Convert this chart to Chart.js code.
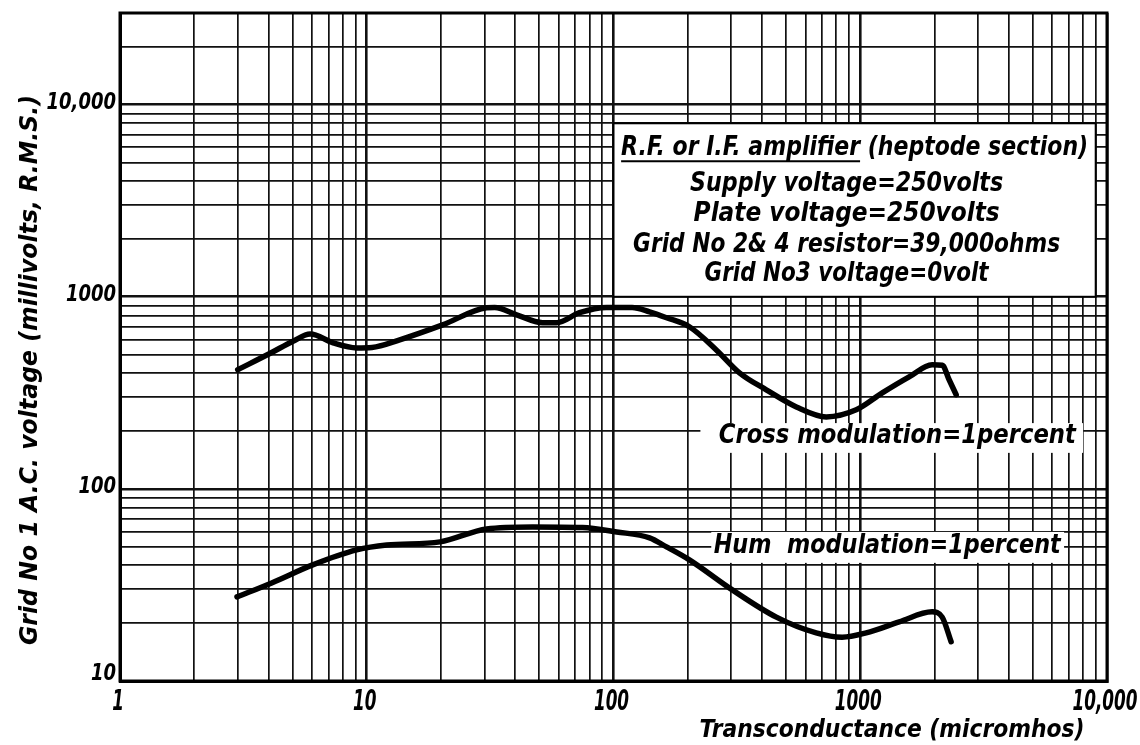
<!DOCTYPE html>
<html><head><meta charset="utf-8">
<script src="https://cdn.jsdelivr.net/npm/chart.js@4.4.0/dist/chart.umd.min.js"></script>
<style>html,body{margin:0;padding:0;background:#fff;}#wrap{width:1140px;height:745px;}</style>
</head><body><div id="wrap"><canvas id="c" width="1140" height="745"></canvas></div>
<script>
// ---- data ----
const crossX = [3.0, 4.1, 5.0, 5.9, 7.3, 9.1, 10.5, 13.6, 20.3, 30.6, 33, 40.5, 51.6, 58.8, 72.8, 93.7, 119, 140, 164, 203, 261, 324, 416, 551, 728, 963, 1228, 1578, 1956, 2150, 2292, 2448];
const crossY = [417, 511, 585, 640, 576, 542, 545, 597, 714, 877, 880, 806, 733, 733, 826, 880, 880, 835, 778, 698, 529, 402, 328, 267, 237, 258, 316, 383, 443, 440, 370, 309];
const humX = [2.98, 4.12, 6.04, 9.1, 12.05, 19.8, 30.6, 47, 74.8, 103, 140, 164, 203, 303, 457, 663, 845, 1057, 1438, 1956, 2148, 2335];
const humY = [27.4, 32.4, 40.2, 48.1, 51, 53, 61.9, 63.4, 63, 59.7, 55.6, 49.9, 42.7, 29.8, 21.5, 17.8, 16.9, 17.8, 20.3, 22.9, 21.5, 16.0];

const xTickValues = [1,2,3,4,5,6,7,8,9,10,20,30,40,50,60,70,80,90,100,200,300,400,500,600,700,800,900,1000,2000,3000,4000,5000,6000,7000,8000,9000,10000];
const yTickValues = [10,20,30,40,50,60,70,80,90,100,200,300,400,500,600,700,800,900,1000,2000,3000,4000,5000,6000,7000,8000,9000,10000,20000,30000];
const xLabelValues = [1, 10, 100, 1000, 10000];
const xLabelTexts = ['1', '10', '100', '1000', '10,000'];
const yLabelValues = [10, 100, 1000, 10000];
const yLabelTexts = ['10', '100', '1000', '10,000'];

const seriesNames = ['Cross modulation=1percent', 'Hum  modulation=1percent'];
const noteTitleA = 'R.F. or I.F. amplifier';
const noteTitleB = ' (heptode section)';
const noteLines = ['Supply voltage=250volts', 'Plate voltage=250volts', 'Grid No 2& 4 resistor=39,000ohms', 'Grid No3 voltage=0volt'];
const xTitle = 'Transconductance (micromhos)';
const yTitle = 'Grid No 1 A.C. voltage (millivolts, R.M.S.)';

// ---- helpers ----
const FAM = '"DejaVu Sans Condensed", "DejaVu Sans", sans-serif';
const isDecade = v => Math.abs(Math.log10(v) - Math.round(Math.log10(v))) < 1e-9;
function toPts(xs, ys){ return xs.map((x,i)=>({x, y: ys[i]})); }
function drawText(ctx, text, px, py, size, k, align){
  ctx.save();
  ctx.font = 'italic bold ' + size + 'px ' + FAM;
  ctx.translate(px, py);
  ctx.scale(k, 1);
  ctx.textAlign = align || 'center';
  ctx.textBaseline = 'middle';
  ctx.fillStyle = '#000';
  ctx.fillText(text, 0, 0);
  ctx.restore();
}
function fitText(ctx, text, cx, cy, width, size, align){
  ctx.save();
  ctx.font = 'italic bold ' + size + 'px ' + FAM;
  const w = ctx.measureText(text).width;
  ctx.restore();
  drawText(ctx, text, cx, cy, size, width / w, align);
  return width / w;
}

const decor = {
  id: 'decor',
  beforeDatasetsDraw(chart){
    const {ctx, scales:{x, y}} = chart;
    ctx.save();
    ctx.fillStyle = '#fff';
    const bx0 = x.getPixelForValue(100), bx1 = x.getPixelForValue(9000);
    const by0 = y.getPixelForValue(8000), by1 = y.getPixelForValue(1000);
    ctx.fillRect(bx0, by0, bx1 - bx0, by1 - by0);
    ctx.strokeStyle = '#000'; ctx.lineWidth = 2;
    ctx.strokeRect(bx0, by0, bx1 - bx0, by1 - by0);
    let a = x.getPixelForValue(225), b = x.getPixelForValue(8000);
    let t = y.getPixelForValue(220), u = y.getPixelForValue(154);
    ctx.fillRect(a, t, b - a, u - t);
    a = x.getPixelForValue(249); b = x.getPixelForValue(6700);
    t = y.getPixelForValue(59.7); u = y.getPixelForValue(41.2);
    ctx.fillRect(a, t, b - a, u - t);
    ctx.restore();
  },
  afterDatasetsDraw(chart){
    const {ctx, scales:{x, y}} = chart;
    const bx0 = x.getPixelForValue(100), bx1 = x.getPixelForValue(9000);
    const by0 = y.getPixelForValue(8000);
    const bc = (bx0 + bx1) / 2;
    ctx.save();
    ctx.font = 'italic bold 26px ' + FAM;
    const wa = ctx.measureText(noteTitleA).width, wb = ctx.measureText(noteTitleB).width;
    ctx.restore();
    const titleW = 467, k = titleW / (wa + wb);
    const tx0 = bc - titleW / 2, ty = by0 + 25;
    drawText(ctx, noteTitleA + noteTitleB, tx0, ty, 26, k, 'left');
    ctx.save();
    ctx.strokeStyle = '#000'; ctx.lineWidth = 2;
    ctx.beginPath(); ctx.moveTo(tx0, ty + 13); ctx.lineTo(tx0 + wa * k, ty + 13); ctx.stroke();
    ctx.restore();
    const widths = [313, 306, 427, 284];
    const offs = [61, 91, 122, 151];
    noteLines.forEach((s, i) => fitText(ctx, s, bc - 8, by0 + offs[i], widths[i], 26));
    fitText(ctx, seriesNames[0], x.getPixelForValue(1413), y.getPixelForValue(187), 357, 26);
    fitText(ctx, seriesNames[1], x.getPixelForValue(1286), y.getPixelForValue(50), 347, 26);
  },
  afterDraw(chart){
    const {ctx, chartArea:ca, scales:{x, y}} = chart;
    ctx.save();
    ctx.strokeStyle = '#000'; ctx.lineWidth = 3;
    ctx.strokeRect(ca.left, ca.top, ca.right - ca.left, ca.bottom - ca.top);
    ctx.restore();
    // tick labels
    xLabelValues.forEach((v, i) => {
      drawText(ctx, xLabelTexts[i], x.getPixelForValue(v) - 2, ca.bottom + 22, 28, 0.67, 'center');
    });
    yLabelValues.forEach((v, i) => {
      const py = Math.min(y.getPixelForValue(v) - 2, ca.bottom - 7);
      drawText(ctx, yLabelTexts[i], ca.left - 4, py, 23, 0.87, 'right');
    });
    // axis titles
    fitText(ctx, xTitle, 892, 730, 385, 25);
    ctx.save();
    ctx.translate(31, 370);
    ctx.rotate(-Math.PI / 2);
    fitText(ctx, yTitle, 0, 0, 550, 24);
    ctx.restore();
  }
};

new Chart(document.getElementById('c'), {
  type: 'scatter',
  data: {
    datasets: [
      {label: seriesNames[0], data: toPts(crossX, crossY), showLine: true, borderColor: '#000', borderWidth: 5.5, pointRadius: 0, cubicInterpolationMode: 'monotone', borderCapStyle: 'round', borderJoinStyle: 'round'},
      {label: seriesNames[1], data: toPts(humX, humY), showLine: true, borderColor: '#000', borderWidth: 5.5, pointRadius: 0, cubicInterpolationMode: 'monotone', borderCapStyle: 'round', borderJoinStyle: 'round'}
    ]
  },
  options: {
    responsive: false, animation: false, devicePixelRatio: 1,
    layout: {padding: {left: 0, top: 13, right: 33, bottom: 0}},
    plugins: {legend: {display: false}, tooltip: {enabled: false}},
    scales: {
      x: {
        type: 'logarithmic', min: 1, max: 10000,
        afterBuildTicks: s => { s.ticks = xTickValues.map(v => ({value: v, major: isDecade(v)})); },
        afterFit: s => { s.height = 64; s.paddingLeft = 0; s.paddingRight = 0; },
        grid: {color: '#111', lineWidth: c => (c.tick && isDecade(c.tick.value)) ? 2.6 : 1.7, drawTicks: false},
        border: {color: '#000', width: 3},
        ticks: {display: false, autoSkip: false}
      },
      y: {
        type: 'logarithmic', min: 10, max: 30000,
        afterBuildTicks: s => { s.ticks = yTickValues.map(v => ({value: v, major: isDecade(v)})); },
        afterFit: s => { s.width = 120; s.paddingTop = 0; s.paddingBottom = 0; },
        grid: {color: '#111', lineWidth: c => (c.tick && isDecade(c.tick.value)) ? 2.6 : 1.7, drawTicks: false},
        border: {color: '#000', width: 3},
        ticks: {display: false, autoSkip: false}
      }
    }
  },
  plugins: [decor]
});
</script></body></html>
